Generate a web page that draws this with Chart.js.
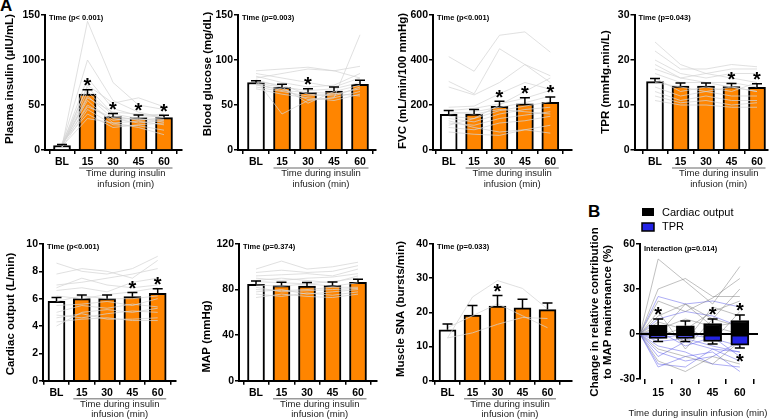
<!DOCTYPE html>
<html>
<head>
<meta charset="utf-8">
<script src="https://cdn.jsdelivr.net/npm/chart.js@4.4.0/dist/chart.umd.min.js"></script>
<style>
  body { margin: 0; background: #fff; }
  #wrap { position: relative; width: 776px; height: 420px; overflow: hidden; background: #fff; }
  canvas { position: absolute; }
  .letter { position: absolute; font-family: "Liberation Sans", Arial, sans-serif; font-weight: bold; font-size: 17px; line-height: 17px; }
</style>
</head>
<body>
<div id="wrap">
  <div class="letter" style="left:0px;top:-3px">A</div>
  <div class="letter" style="left:588px;top:203px">B</div>
</div>
<script>
// x categories
const timeLabels = ['BL', '15', '30', '45', '60']

// plasma insulin
const insulinMean = [4.8, 62, 37, 36, 36]
const insulinErr = [6, 67, 40.5, 39, 38.5]
const insulinSig = [0, 1, 1, 1, 1]
const insulinSubjects = [
  [4, 143, 75, 50, 45], [6, 100, 55, 42, 36], [5, 80, 46, 38, 40], [3, 72, 52, 58, 48],
  [7, 70, 40, 35, 31], [5, 65, 38, 33, 36], [4, 60, 35, 30, 33], [6, 55, 30, 32, 28],
  [5, 50, 33, 36, 38], [3, 45, 28, 27, 22], [8, 40, 25, 28, 30], [4, 35, 30, 25, 17],
  [5, 58, 42, 40, 37], [6, 48, 36, 34, 34]
]

// blood glucose
const glucoseMean = [75, 69.5, 64, 65.5, 73]
const glucoseErr = [77, 73, 68, 70, 77.5]
const glucoseSig = [0, 0, 1, 0, 0]
const glucoseSubjects = [
  [78, 40, 55, 58, 128], [80, 85, 90, 88, 93], [76, 72, 62, 60, 70], [72, 68, 56, 58, 65],
  [85, 80, 75, 70, 80], [70, 65, 60, 62, 68], [74, 70, 66, 68, 75], [68, 62, 58, 55, 62],
  [82, 75, 70, 72, 85], [78, 70, 52, 65, 72], [73, 66, 64, 63, 60], [88, 90, 92, 88, 80]
]

// forearm vascular conductance
const fvcMean = [158, 160, 194, 205, 212]
const fvcErr = [176, 180, 217, 232, 236]
const fvcSig = [0, 0, 1, 1, 1]
const fvcSubjects = [
  [415, 350, 510, 525, 435], [305, 250, 450, 380, 300], [280, 245, 300, 380, 330],
  [190, 195, 250, 300, 270], [175, 185, 205, 230, 265], [160, 170, 190, 210, 240],
  [150, 140, 175, 195, 215], [140, 125, 160, 180, 190], [120, 110, 140, 155, 170],
  [100, 90, 120, 130, 150], [80, 70, 65, 90, 110], [130, 100, 80, 90, 75],
  [170, 160, 180, 170, 160], [110, 140, 200, 260, 320]
]

// total peripheral resistance
const tprMean = [15.2, 14.2, 14.2, 14.1, 13.9]
const tprErr = [15.9, 14.9, 14.9, 14.8, 14.7]
const tprSig = [0, 0, 0, 1, 1]
const tprSubjects = [
  [24, 19, 17, 16, 15], [22, 18, 18, 19, 18.5], [20, 17, 16, 17, 17], [19, 16, 17, 18, 18],
  [17, 15, 15, 15, 14], [16, 13, 14, 13, 15], [15, 14, 13, 14, 13], [14, 12, 13, 12, 12],
  [13, 11, 12, 11, 11], [12, 10.5, 11, 10, 10.5], [11, 10, 10, 9.5, 9.5], [18, 16, 15, 14, 13]
]

// cardiac output
const coMean = [5.8, 6.0, 6.0, 6.15, 6.4]
const coErr = [6.08, 6.27, 6.27, 6.45, 6.72]
const coSig = [0, 0, 0, 1, 1]
const coSubjects = [
  [8.6, 8.0, 7.8, 8.2, 9.1], [7.8, 8.2, 8.0, 7.5, 8.8], [7.0, 7.2, 7.5, 7.8, 8.2],
  [6.6, 6.8, 6.5, 7.2, 7.5], [6.2, 6.0, 6.3, 6.5, 6.8], [5.8, 6.2, 6.0, 6.0, 6.2],
  [5.5, 5.6, 5.8, 5.5, 6.0], [5.0, 5.5, 5.3, 5.6, 5.4], [4.8, 4.6, 4.9, 5.1, 5.0],
  [4.6, 4.9, 4.5, 4.5, 4.6], [4.3, 4.5, 4.6, 4.4, 4.4], [4.0, 5.0, 5.2, 5.0, 5.3],
  [6.8, 7.5, 7.0, 6.8, 7.0]
]

// mean arterial pressure
const mapMean = [84.5, 83.5, 83, 83.7, 86.3]
const mapErr = [87.5, 86.5, 86.3, 86.6, 89]
const mapSig = [0, 0, 0, 0, 0]
const mapSubjects = [
  [98, 105, 98, 100, 104], [95, 97, 95, 96, 101], [92, 93, 94, 92, 98], [90, 88, 90, 91, 94],
  [87, 86, 85, 87, 90], [84, 83, 85, 83, 86], [80, 79, 80, 82, 82], [78, 80, 76, 78, 80],
  [76, 74, 77, 75, 78], [73, 76, 74, 73, 76], [82, 78, 79, 80, 81], [88, 90, 88, 86, 92]
]

// muscle sympathetic nerve activity
const snaMean = [14.9, 19.2, 21.8, 21.3, 20.8]
const snaErr = [16.6, 22, 24.9, 23.8, 22.7]
const snaSig = [0, 0, 1, 0, 0]
const snaSubjects = [
  [12.5, 24.5, 29.3, 27, 21], [12.5, 14, 16.5, 18.5, 18.2], [15.5, 19, 22.5, 19, 15.5]
]

// panel B: change in relative contribution (%)
const bTimes = [15, 30, 45, 60]
const bCoBar = [6, 5.5, 7, 9]
const bTprBar = [-3, -3, -5, -7.5]
const bCoWhisker = [10, 8.7, 10, 12.7]
const bTprWhisker = [-5, -5, -6.7, -9.3]
const bCoSig = [1, 0, 1, 1]
const bTprSig = [0, 0, 0, 1]
const bCoSubjects = [
  [50, 35, 20, 45], [30, 37, 25, 25], [22, 15, 24, 37], [12, 20, 10, 30], [8, 3, 15, 22],
  [5, -5, 18, 12], [3, 10, 5, 8], [-2, 5, -5, 15], [-10, -15, -20, -5], [-18, -25, -15, -20],
  [0, 20, 5, 0], [15, -10, 10, 5]
]
const bTprSubjects = [
  [25, 20, 22, 18], [-22, -15, -12, -25], [-8, -12, -20, -22], [-15, -5, -10, -18],
  [-5, -3, -8, -12], [10, 15, 12, 5], [-3, 0, -3, -8], [-12, -18, -15, -5],
  [2, -8, -2, -15], [-20, -22, -10, -12]
]

const wrap = document.getElementById('wrap')
const FONT = '"Liberation Sans", Arial, sans-serif'
const ORANGE = '#ff8500'
const tickFont = { family: FONT, size: 10.5, weight: 'bold' }

function addCanvas(left, top, w, h) {
  const cv = document.createElement('canvas')
  cv.width = w
  cv.height = h
  cv.style.left = left + 'px'
  cv.style.top = top + 'px'
  wrap.appendChild(cv)
  return cv
}

function axisStyle() {
  return {
    grid: { drawOnChartArea: false, drawTicks: true, tickLength: 4, color: '#000', lineWidth: 1.5 },
    border: { color: '#000', width: 2 }
  }
}

function star(ctx, x, y) {
  ctx.save()
  ctx.fillStyle = '#000'
  ctx.font = 'bold 20px ' + FONT
  ctx.textAlign = 'center'
  ctx.textBaseline = 'alphabetic'
  ctx.fillText('*', x, y)
  ctx.restore()
}

function vTitle(ctx, lines, x, y, size, gap) {
  ctx.save()
  ctx.translate(x, y)
  ctx.rotate(-Math.PI / 2)
  ctx.fillStyle = '#000'
  ctx.font = 'bold ' + size + 'px ' + FONT
  ctx.textAlign = 'center'
  ctx.textBaseline = 'middle'
  lines.forEach((t, i) => ctx.fillText(t, 0, i * gap))
  ctx.restore()
}

function note(ctx, text, x, y) {
  ctx.save()
  ctx.fillStyle = '#000'
  ctx.font = 'bold 7.5px ' + FONT
  ctx.textAlign = 'left'
  ctx.textBaseline = 'middle'
  ctx.fillText(text, x, y)
  ctx.restore()
}

function barPanel(o) {
  const cv = addCanvas(o.left, o.top, o.width, o.height)
  const xMin = (o.area.l - o.c0) / o.s
  const xMax = (o.area.r - o.c0) / o.s
  const datasets = [{
    type: 'bar',
    data: o.mean.map((v, i) => ({ x: i, y: v })),
    backgroundColor: o.mean.map((v, i) => i === 0 ? '#fff' : ORANGE),
    borderColor: '#000',
    borderWidth: 2,
    barThickness: 17,
    order: 2
  }]
  o.subjects.forEach(s => datasets.push({
    type: 'line',
    data: s.map((v, i) => ({ x: i, y: v })),
    borderColor: 'rgba(212,212,212,0.72)',
    borderWidth: 1,
    pointRadius: 0,
    order: 1
  }))

  const extras = {
    id: 'extras',
    afterDatasetsDraw(chart) {
      const ctx = chart.ctx
      const xs = chart.scales.x, ys = chart.scales.y
      ctx.save()
      ctx.strokeStyle = '#000'
      ctx.lineWidth = 1.5
      o.mean.forEach((m, i) => {
        const x = xs.getPixelForValue(i)
        const y0 = ys.getPixelForValue(m)
        const y1 = ys.getPixelForValue(o.err[i])
        ctx.beginPath()
        ctx.moveTo(x, y0)
        ctx.lineTo(x, y1)
        ctx.moveTo(x - 5, y1)
        ctx.lineTo(x + 5, y1)
        ctx.stroke()
        if (o.sig[i]) star(ctx, x, y1 + 2.4)
      })
      ctx.restore()
    },
    afterDraw(chart) {
      const ctx = chart.ctx
      const a = chart.chartArea
      const xs = chart.scales.x
      note(ctx, o.note, a.left + 4, a.top + 3)
      vTitle(ctx, [o.yTitle], o.titleX - o.left, o.titleY - o.top, 11.5, 0)
      // underline and caption below the infusion time points
      const x1 = xs.getPixelForValue(1) - 8.5
      const x2 = xs.getPixelForValue(4) + 8.5
      ctx.save()
      ctx.strokeStyle = '#9a9a9a'
      ctx.lineWidth = 1.5
      ctx.beginPath()
      ctx.moveTo(x1, a.bottom + 18)
      ctx.lineTo(x2, a.bottom + 18)
      ctx.stroke()
      ctx.fillStyle = '#222'
      ctx.font = '9.5px ' + FONT
      ctx.textAlign = 'center'
      ctx.textBaseline = 'middle'
      const cx = (x1 + x2) / 2
      ctx.fillText('Time during insulin', cx, a.bottom + 23.5)
      ctx.fillText('infusion (min)', cx, a.bottom + 34)
      ctx.restore()
    }
  }

  new Chart(cv, {
    type: 'bar',
    data: { datasets },
    options: {
      responsive: false,
      animation: false,
      events: [],
      layout: { padding: { left: 0, top: o.area.t - o.top, right: o.left + o.width - o.area.r, bottom: 0 } },
      plugins: { legend: { display: false }, tooltip: { enabled: false } },
      scales: {
        x: {
          type: 'linear',
          offset: false,
          min: xMin,
          max: xMax,
          afterBuildTicks: ax => { ax.ticks = timeLabels.map((t, i) => ({ value: i })) },
          afterFit: sc => { sc.height = o.top + o.height - o.area.b },
          ticks: { callback: v => timeLabels[v], font: tickFont, color: '#000', padding: 2, maxRotation: 0, autoSkip: false },
          ...axisStyle()
        },
        y: {
          min: 0,
          max: o.yMax,
          afterFit: sc => { sc.width = o.area.l - o.left },
          ticks: { stepSize: o.yStep, font: tickFont, color: '#000', padding: 1 },
          ...axisStyle()
        }
      }
    },
    plugins: [extras]
  })
}

// top row
barPanel({ left: 0, top: 0, width: 192, height: 200, area: { l: 45, r: 182, t: 15, b: 150 }, c0: 62, s: 25.5,
  yMax: 150, yStep: 50, yTitle: 'Plasma insulin (µIU/mL)', titleX: 10, titleY: 79, note: 'Time (p< 0.001)',
  mean: insulinMean, err: insulinErr, sig: insulinSig, subjects: insulinSubjects })
barPanel({ left: 195, top: 0, width: 190, height: 200, area: { l: 238, r: 376, t: 15, b: 150 }, c0: 256, s: 26,
  yMax: 150, yStep: 50, yTitle: 'Blood glucose (mg/dL)', titleX: 207.5, titleY: 74, note: 'Time (p=0.003)',
  mean: glucoseMean, err: glucoseErr, sig: glucoseSig, subjects: glucoseSubjects })
barPanel({ left: 390, top: 0, width: 190, height: 200, area: { l: 433, r: 572, t: 15, b: 150 }, c0: 448.7, s: 25.4,
  yMax: 600, yStep: 200, yTitle: 'FVC (mL/min/100 mmHg)', titleX: 402.5, titleY: 81, note: 'Time (p<0.001)',
  mean: fvcMean, err: fvcErr, sig: fvcSig, subjects: fvcSubjects })
barPanel({ left: 585, top: 0, width: 191, height: 200, area: { l: 634.5, r: 768, t: 15, b: 150 }, c0: 655, s: 25.5,
  yMax: 30, yStep: 10, yTitle: 'TPR (mmHg.min/L)', titleX: 606, titleY: 82, note: 'Time (p=0.043)',
  mean: tprMean, err: tprErr, sig: tprSig, subjects: tprSubjects })

// bottom row
barPanel({ left: 0, top: 220, width: 190, height: 200, area: { l: 43, r: 176, t: 244, b: 380.7 }, c0: 56.5, s: 25.3,
  yMax: 10, yStep: 2, yTitle: 'Cardiac output (L/min)', titleX: 11, titleY: 314, note: 'Time (p<0.001)',
  mean: coMean, err: coErr, sig: coSig, subjects: coSubjects })
barPanel({ left: 195, top: 220, width: 190, height: 200, area: { l: 239, r: 377, t: 244, b: 380.7 }, c0: 256, s: 25.5,
  yMax: 120, yStep: 40, yTitle: 'MAP (mmHg)', titleX: 206.5, titleY: 336.5, note: 'Time (p=0.374)',
  mean: mapMean, err: mapErr, sig: mapSig, subjects: mapSubjects })
barPanel({ left: 390, top: 220, width: 190, height: 200, area: { l: 433, r: 572, t: 244, b: 380.7 }, c0: 447.5, s: 25,
  yMax: 40, yStep: 10, yTitle: 'Muscle SNA (bursts/min)', titleX: 401, titleY: 309, note: 'Time (p=0.033)',
  mean: snaMean, err: snaErr, sig: snaSig, subjects: snaSubjects })

// panel B
;(function () {
  const left = 585, top = 205, width = 191, height = 215
  const area = { l: 640, r: 758, t: 244, b: 379 }
  const cv = addCanvas(left, top, width, height)
  const datasets = [
    { type: 'bar', data: bTimes.map((t, i) => ({ x: t, y: [0, bCoBar[i]] })), backgroundColor: '#000',
      borderColor: '#000', borderWidth: 2, borderSkipped: false, barThickness: 18, grouped: false, order: 0 },
    { type: 'bar', data: bTimes.map((t, i) => ({ x: t, y: [bTprBar[i], 0] })), backgroundColor: '#2323e6',
      borderColor: '#000', borderWidth: 2, borderSkipped: false, barThickness: 18, grouped: false, order: 0 }
  ]
  bCoSubjects.forEach(s => datasets.push({
    type: 'line', data: [{ x: 5, y: 0 }].concat(s.map((v, i) => ({ x: bTimes[i], y: v }))),
    borderColor: 'rgba(110,110,110,0.55)', borderWidth: 0.8, pointRadius: 0, order: 2
  }))
  bTprSubjects.forEach(s => datasets.push({
    type: 'line', data: [{ x: 5, y: 0 }].concat(s.map((v, i) => ({ x: bTimes[i], y: v }))),
    borderColor: 'rgba(70,70,230,0.55)', borderWidth: 0.8, pointRadius: 0, order: 2
  }))

  const extras = {
    id: 'extrasB',
    afterDatasetsDraw(chart) {
      const ctx = chart.ctx
      const xs = chart.scales.x, ys = chart.scales.y
      const a = chart.chartArea
      ctx.save()
      ctx.strokeStyle = '#000'
      ctx.lineWidth = 2
      ctx.beginPath()
      ctx.moveTo(a.left, ys.getPixelForValue(0))
      ctx.lineTo(a.right, ys.getPixelForValue(0))
      ctx.stroke()
      ctx.lineWidth = 1.5
      bTimes.forEach((t, i) => {
        const x = xs.getPixelForValue(t)
        const hi = ys.getPixelForValue(bCoBar[i]), hiW = ys.getPixelForValue(bCoWhisker[i])
        const lo = ys.getPixelForValue(bTprBar[i]), loW = ys.getPixelForValue(bTprWhisker[i])
        ctx.beginPath()
        ctx.moveTo(x, hi); ctx.lineTo(x, hiW)
        ctx.moveTo(x - 5, hiW); ctx.lineTo(x + 5, hiW)
        ctx.moveTo(x, lo); ctx.lineTo(x, loW)
        ctx.moveTo(x - 5, loW); ctx.lineTo(x + 5, loW)
        ctx.stroke()
        if (bCoSig[i]) star(ctx, x, hiW + 2.4)
        if (bTprSig[i]) star(ctx, x, loW + 20)
      })
      ctx.restore()
    },
    afterDraw(chart) {
      const ctx = chart.ctx
      const a = chart.chartArea
      note(ctx, 'Interaction (p=0.014)', a.left + 4, a.top + 5)
      vTitle(ctx, ['Change in relative contribution', 'to MAP maintenance (%)'], 595 - left, 312 - top, 11.5, 13)
      ctx.save()
      // legend
      ctx.fillStyle = '#000'
      ctx.fillRect(642 - left, 208 - top, 12, 8)
      ctx.fillStyle = '#2323e6'
      ctx.fillRect(642 - left, 223 - top, 12, 8)
      ctx.strokeStyle = '#000'
      ctx.lineWidth = 1.5
      ctx.strokeRect(642 - left, 223 - top, 12, 8)
      ctx.fillStyle = '#000'
      ctx.font = '11px ' + FONT
      ctx.textAlign = 'left'
      ctx.textBaseline = 'middle'
      ctx.fillText('Cardiac output', 662 - left, 212.5 - top)
      ctx.fillText('TPR', 662 - left, 227 - top)
      ctx.fillStyle = '#222'
      ctx.font = '9.5px ' + FONT
      ctx.textAlign = 'center'
      ctx.fillText('Time during insulin infusion (min)', 698 - left, 413 - top)
      ctx.restore()
    }
  }

  new Chart(cv, {
    type: 'bar',
    data: { datasets },
    options: {
      responsive: false,
      animation: false,
      events: [],
      layout: { padding: { left: 0, top: area.t - top, right: left + width - area.r, bottom: 0 } },
      plugins: { legend: { display: false }, tooltip: { enabled: false } },
      scales: {
        x: {
          type: 'linear',
          offset: false,
          min: 5,
          max: 70,
          afterBuildTicks: ax => { ax.ticks = bTimes.map(t => ({ value: t })) },
          afterFit: sc => { sc.height = top + height - area.b },
          ticks: { font: tickFont, color: '#000', padding: 3, maxRotation: 0, autoSkip: false },
          grid: { drawOnChartArea: false, drawTicks: true, tickLength: 5, color: '#000', lineWidth: 1.5 },
          border: { display: false }
        },
        y: {
          min: -30,
          max: 60,
          afterFit: sc => { sc.width = area.l - left },
          ticks: { stepSize: 30, font: tickFont, color: '#000', padding: 1 },
          ...axisStyle()
        }
      }
    },
    plugins: [extras]
  })
})()
</script>
</body>
</html>
